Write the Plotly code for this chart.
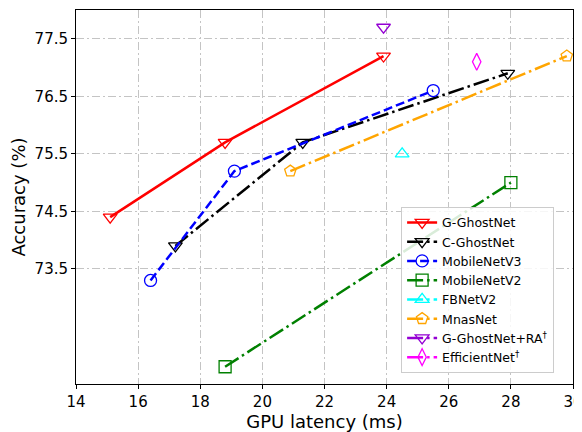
import plotly.graph_objects as go

# Data
g_ghost_x = [15.1, 18.8, 23.9]
g_ghost_y = [74.4, 75.7, 77.2]
c_ghost_x = [17.2, 21.3, 27.9]
c_ghost_y = [73.9, 75.7, 76.9]
mbv3_x = [16.4, 19.1, 25.5]
mbv3_y = [73.3, 75.2, 76.6]
mbv2_x = [18.8, 28.0]
mbv2_y = [71.8, 75.0]
fbnet_x = [24.5]
fbnet_y = [75.5]
mnas_x = [20.9, 29.8]
mnas_y = [75.2, 77.2]
ra_x = [23.9]
ra_y = [77.7]
eff_x = [26.9]
eff_y = [77.1]

x_ticks = [14, 16, 18, 20, 22, 24, 26, 28, 30]
y_ticks = [73.5, 74.5, 75.5, 76.5, 77.5]

DASH = "9px,4px"
DASHDOT = "16px,4px,2.5px,4px"

series = [
    ("G-GhostNet", g_ghost_x, g_ghost_y, "red", "solid", "triangle-down-open"),
    ("C-GhostNet", c_ghost_x, c_ghost_y, "black", DASHDOT, "triangle-down-open"),
    ("MobileNetV3", mbv3_x, mbv3_y, "blue", DASH, "circle-open"),
    ("MobileNetV2", mbv2_x, mbv2_y, "green", DASHDOT, "square-open"),
    ("FBNetV2", fbnet_x, fbnet_y, "cyan", DASHDOT, "triangle-up-open"),
    ("MnasNet", mnas_x, mnas_y, "orange", DASHDOT, "pentagon-open"),
    ("G-GhostNet+RA<sup>†</sup>", ra_x, ra_y, "#9400D3", DASHDOT, "triangle-down-open"),
    ("EfficientNet<sup>†</sup>", eff_x, eff_y, "magenta", DASHDOT, "diamond-tall-open"),
]

fig = go.Figure()
for name, xs, ys, col, dash, sym in series:
    fig.add_trace(go.Scatter(
        x=xs, y=ys, name=name, mode="lines+markers",
        line=dict(color=col, width=2.5, dash=dash),
        marker=dict(symbol=sym, size=12, color=col, line=dict(width=1.3, color=col)),
    ))

axis_common = dict(
    showline=True, linecolor="black", linewidth=1, mirror=True,
    ticks="outside", ticklen=4, tickcolor="black",
    showgrid=True, gridcolor="#c4c4c4", griddash="8px,3px,2px,3px", gridwidth=1,
    zeroline=False, tickfont=dict(size=15, color="black"), automargin=False,
    ticklabeloverflow="allow",
)

# The page body adds an 8px offset; figure is sized to fill the visible window.
fig.update_layout(
    width=574, height=424,
    margin=dict(l=68, r=9, t=2, b=48),
    plot_bgcolor="white", paper_bgcolor="white",
    font=dict(family="DejaVu Sans", color="black"),
    xaxis=dict(range=[14, 30], tickvals=x_ticks,
               title=dict(text="GPU latency (ms)", font=dict(size=18), standoff=6),
               **axis_common),
    yaxis=dict(range=[71.5, 78.0], tickvals=y_ticks, ticktext=[f"{v:.1f}" for v in y_ticks],
               title=dict(text="Accuracy (%)", font=dict(size=18), standoff=6),
               **axis_common),
    legend=dict(x=0.962, y=0.03, xanchor="right", yanchor="bottom",
                bgcolor="rgba(255,255,255,0.85)", bordercolor="#cccccc", borderwidth=1,
                font=dict(size=12.5), tracegroupgap=0, itemwidth=30),
    showlegend=True,
)

fig.write_html("out.html")
